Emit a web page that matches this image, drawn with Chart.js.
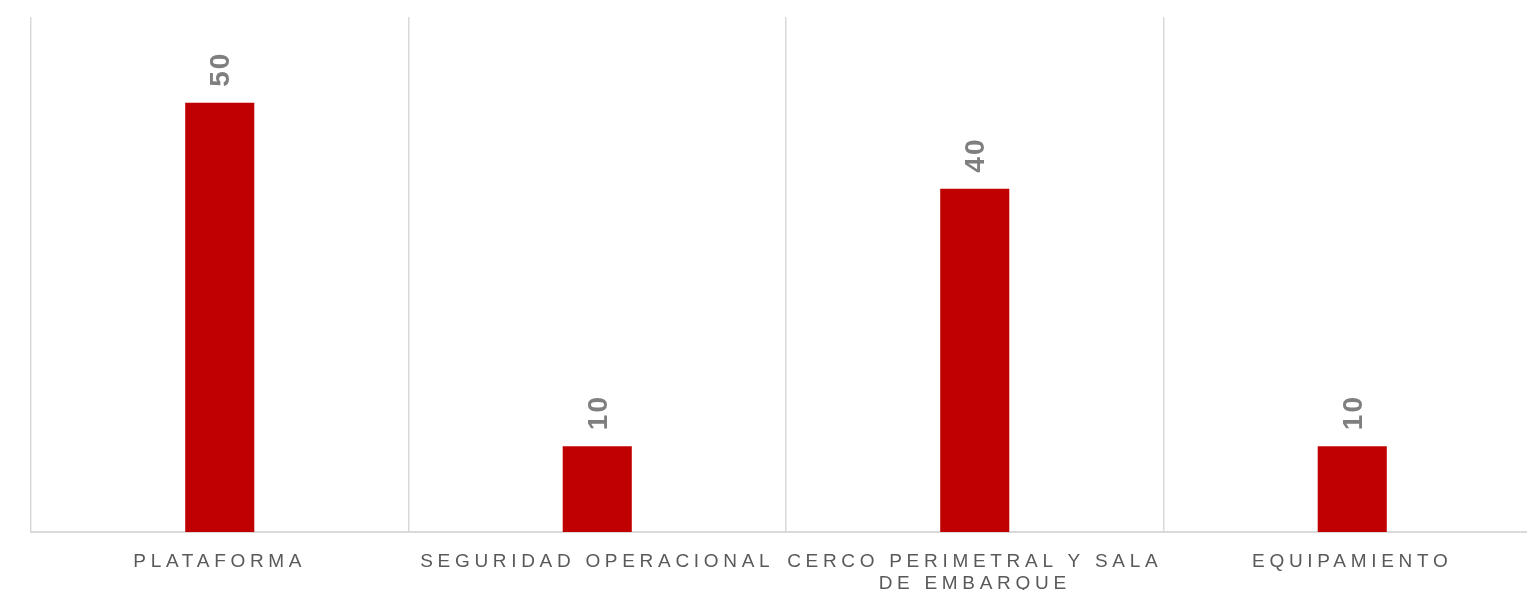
<!DOCTYPE html>
<html>
<head>
<meta charset="utf-8">
<script src="https://cdn.jsdelivr.net/npm/chart.js@4.4.1/dist/chart.umd.min.js"></script>
<style>
    html, body { margin: 0; padding: 0; background: #ffffff; overflow: hidden; }
    #wrap { width: 1541px; height: 590px; position: relative; }
</style>
</head>
<body>
<div id="wrap"><canvas id="grafico"></canvas></div>
<script>
// ---------------------------------------------------------------
// Dados
// ---------------------------------------------------------------
const categorias = [
    "PLATAFORMA",
    "SEGURIDAD OPERACIONAL",
    ["CERCO PERIMETRAL Y SALA", "DE EMBARQUE"],
    "EQUIPAMIENTO"
];
const valores = [50, 10, 40, 10];
const eixoY = { min: 0, max: 60 };

// ---------------------------------------------------------------
// Espaçamento das letras nas etiquetas do eixo X
// ---------------------------------------------------------------
const letterSpacingPlugin = {
    id: "letterSpacing",
    beforeDraw(chart) {
        chart.ctx.letterSpacing = "4.7px";
    },
    beforeDatasetsDraw(chart) {
        chart.ctx.letterSpacing = "0px";
    }
};

// ---------------------------------------------------------------
// Etiquetas de valor rodadas por cima das barras
// ---------------------------------------------------------------
const valorLabels = {
    id: "valorLabels",
    afterDatasetsDraw(chart) {
        const ctx = chart.ctx;
        const meta = chart.getDatasetMeta(0);
        ctx.save();
        ctx.letterSpacing = "2px";
        ctx.font = "bold 28px 'Liberation Sans', Arial, sans-serif";
        ctx.fillStyle = "#7f7f7f";
        ctx.textAlign = "left";
        ctx.textBaseline = "middle";
        meta.data.forEach((bar, i) => {
            ctx.save();
            ctx.translate(bar.x + 2, bar.y - 16);
            ctx.rotate(-Math.PI / 2);
            ctx.fillText(String(valores[i]), 0, 0);
            ctx.restore();
        });
        ctx.restore();
    }
};

new Chart(document.getElementById("grafico").getContext("2d"), {
    type: "bar",
    data: {
        labels: categorias,
        datasets: [{
            data: valores,
            backgroundColor: "#c00000",
            borderWidth: 0,
            barPercentage: 0.183,
            categoryPercentage: 1
        }]
    },
    options: {
        responsive: true,
        maintainAspectRatio: false,
        animation: false,
        layout: { padding: { left: 31, top: 17, right: 0, bottom: 0 } },
        plugins: {
            legend: { display: false },
            tooltip: { enabled: false }
        },
        scales: {
            x: {
                offset: true,
                grid: {
                    offset: true,
                    color: "#d9d9d9",
                    lineWidth: 1.5,
                    drawTicks: false
                },
                border: { color: "#d9d9d9", width: 2 },
                ticks: {
                    color: "#595959",
                    font: { family: "'Liberation Sans', Arial, sans-serif", size: 19, lineHeight: 1.2 },
                    padding: 18,
                    autoSkip: false,
                    maxRotation: 0,
                    minRotation: 0
                },
                afterFit: scale => { scale.height = 58; }
            },
            y: {
                display: false,
                min: eixoY.min,
                max: eixoY.max
            }
        }
    },
    plugins: [letterSpacingPlugin, valorLabels]
});
</script>
</body>
</html>
